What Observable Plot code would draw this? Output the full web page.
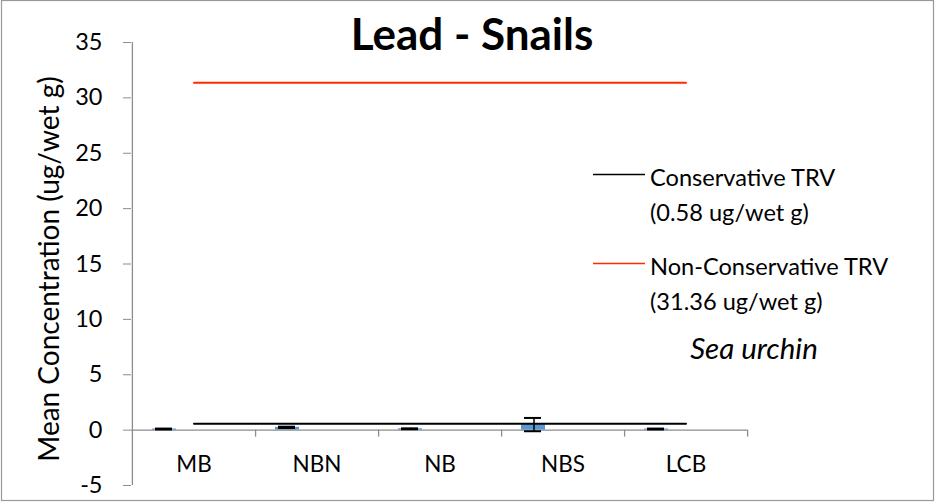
<!DOCTYPE html>
<html>
<head>
<meta charset="utf-8">
<script src="https://cdn.jsdelivr.net/npm/d3@7"></script>
<script src="https://cdn.jsdelivr.net/npm/@observablehq/plot@0.6"></script>
<style>
  html, body { margin: 0; padding: 0; background: #fff; }
  #chart { width: 935px; height: 502px; position: relative; }
</style>
</head>
<body>
<div id="chart"></div>
<script>
const sites = ["MB", "NBN", "NB", "NBS", "LCB"];
const means = [0.1, 0.25, 0.12, 0.5, 0.1];
const errors = [0.04, 0.06, 0.04, 0.6, 0.04];
const conservativeTRV = 0.58;
const nonConservativeTRV = 31.36;
const yTicks = [-5, 0, 5, 10, 15, 20, 25, 30, 35];
const titleText = "Lead - Snails";
const yLabel = "Mean Concentration (ug/wet g)";
const legendItems = [
  {line1: "Conservative TRV", line2: "(0.58 ug/wet g)", color: "#000000"},
  {line1: "Non-Conservative TRV", line2: "(31.36 ug/wet g)", color: "#ff2a00"}
];
const speciesNote = "Sea urchin";

const data = sites.map((s, i) => ({site: s, mean: means[i], err: errors[i]}));
const consLine = sites.map(s => ({site: s, v: conservativeTRV}));
const nonConsLine = sites.map(s => ({site: s, v: nonConservativeTRV}));

const font = "Lato, 'Open Sans', sans-serif";
const W = 935, H = 502;
const mL = 131, mR = 188, mT = 42, mB = 17;
const bw = (W - mL - mR) / sites.length;

const plot = Plot.plot({
  width: W,
  height: H,
  marginLeft: mL,
  marginRight: mR,
  marginTop: mT,
  marginBottom: mB,
  style: {fontFamily: font, background: "transparent", overflow: "visible"},
  x: {domain: sites, paddingInner: 0, paddingOuter: 0, axis: null},
  y: {domain: [-5, 35]},
  marks: [
    Plot.ruleX([sites[0]], {x: d => d, dx: -bw / 2, y1: -5, y2: 35, stroke: "#8c8c8c", strokeWidth: 1.3}),
    Plot.ruleY([0], {stroke: "#8c8c8c", strokeWidth: 1.3}),
    Plot.ruleX(sites, {x: d => d, dx: bw / 2, y1: 0, y2: -0.63, stroke: "#8c8c8c", strokeWidth: 1.3}),
    Plot.axisY({ticks: yTicks, tickSize: 8, tickPadding: 21, fontSize: 23.5, stroke: "#8c8c8c", fill: "#000", label: null, tickFormat: d => String(d)}),
    Plot.text(sites, {x: d => d, y: 0, text: d => d, dy: 35, fontSize: 22.5, fill: "#000"}),
    Plot.text([yLabel], {frameAnchor: "left", text: d => d, rotate: -90, textAnchor: "middle", dx: -81, dy: 5, fontSize: 28, fill: "#000"}),
    Plot.barY(data, {x: "site", y: "mean", fill: "#5b97d5", insetLeft: 20, insetRight: 79}),
    Plot.ruleX(data, {x: "site", y1: d => d.mean - d.err, y2: d => d.mean + d.err, dx: -29, stroke: "#000", strokeWidth: 1.5}),
    Plot.tickY(data, {x: "site", y: d => d.mean + d.err, insetLeft: 23, insetRight: 83, stroke: "#000", strokeWidth: 2}),
    Plot.tickY(data, {x: "site", y: d => d.mean - d.err, insetLeft: 23, insetRight: 83, stroke: "#000", strokeWidth: 2}),
    Plot.lineY(consLine, {x: "site", y: "v", stroke: legendItems[0].color, strokeWidth: 2}),
    Plot.lineY(nonConsLine, {x: "site", y: "v", stroke: legendItems[1].color, strokeWidth: 2})
  ]
});

const svg = d3.select(plot);
// border
svg.append("rect").attr("x", 1.5).attr("y", 0.5).attr("width", W - 3).attr("height", H - 2)
  .attr("fill", "none").attr("stroke", "#999").attr("stroke-width", 1.2);
// title
svg.append("text").attr("x", 472).attr("y", 50).attr("text-anchor", "middle")
  .attr("font-family", font).attr("font-weight", "bold").attr("font-size", 44).attr("fill", "#000").text(titleText);
// legend
const legendY = [174.5, 263.5];
legendItems.forEach((it, i) => {
  const y = legendY[i];
  svg.append("line").attr("x1", 593).attr("x2", 645).attr("y1", y).attr("y2", y)
    .attr("stroke", it.color).attr("stroke-width", 1.6);
  svg.append("text").attr("x", 650).attr("y", y + 11.5).attr("text-anchor", "start").attr("font-family", font).attr("font-size", 23.6).attr("fill", "#000").text(it.line1);
  svg.append("text").attr("x", 650).attr("y", y + 46).attr("text-anchor", "start").attr("font-family", font).attr("font-size", 23.6).attr("fill", "#000").text(it.line2);
});
svg.append("text").attr("x", 754).attr("y", 359).attr("text-anchor", "middle").attr("font-family", font)
  .attr("font-style", "italic").attr("font-size", 29.5).attr("fill", "#000").text(speciesNote);

document.getElementById("chart").appendChild(plot);
</script>
</body>
</html>
